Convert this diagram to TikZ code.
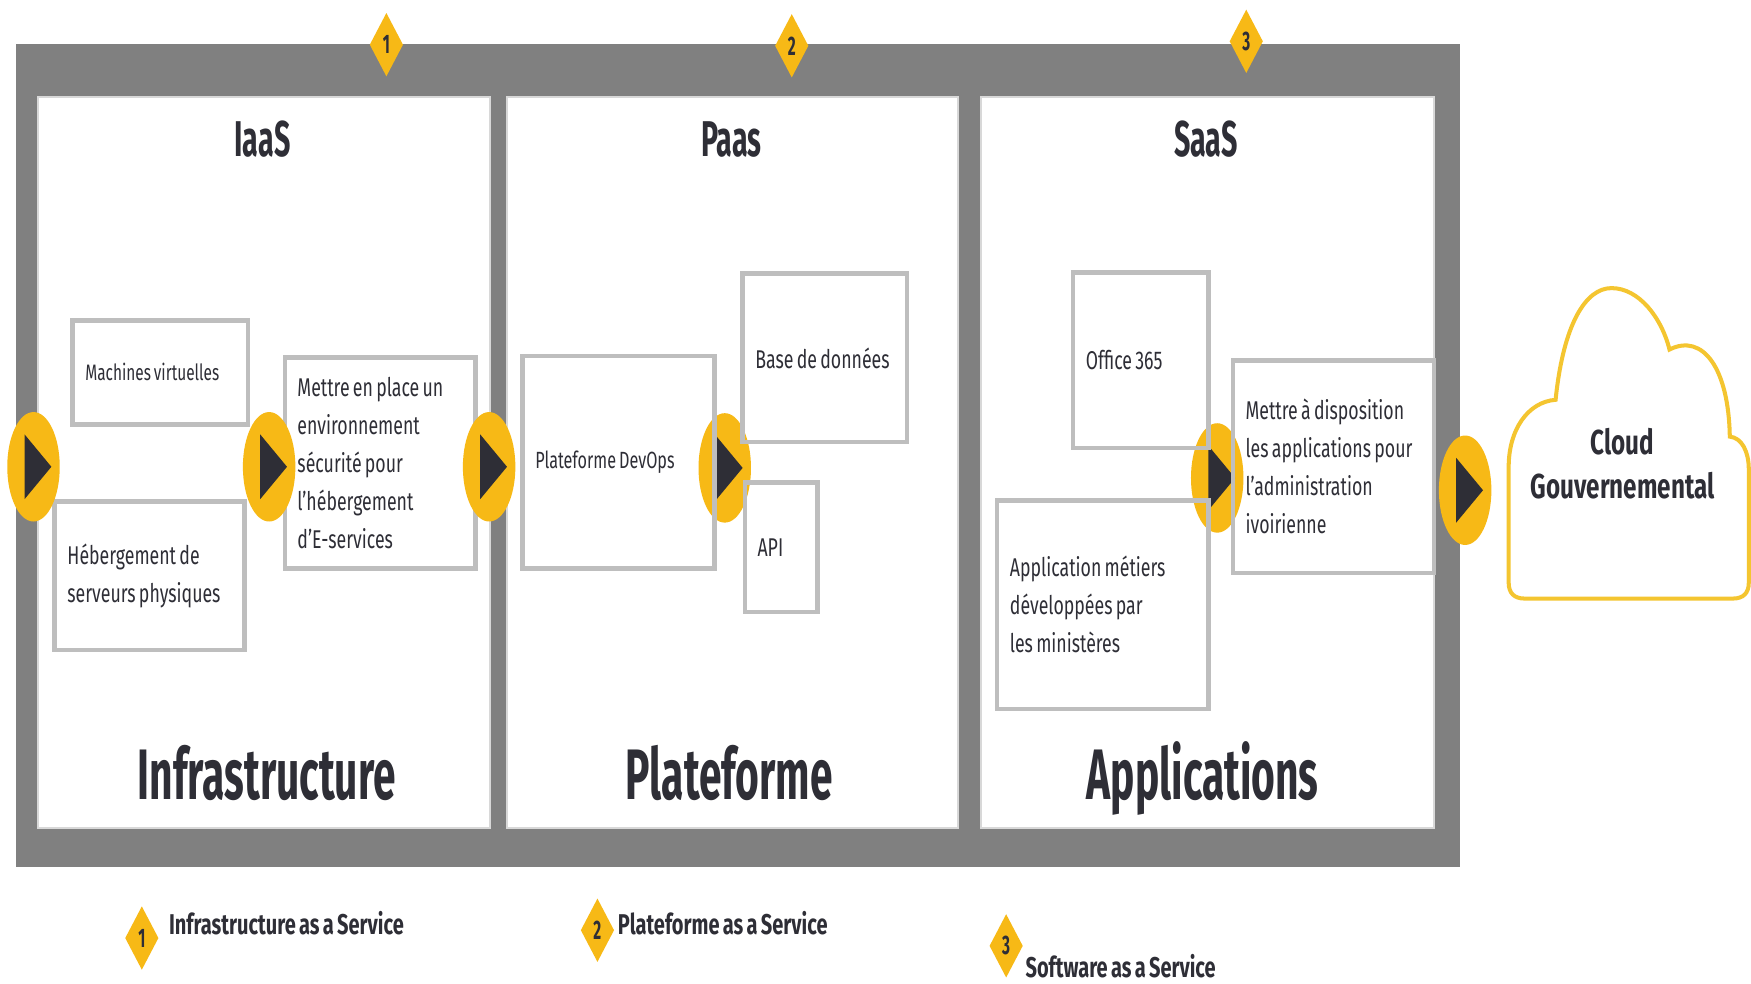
\documentclass[tikz,border=0pt]{standalone}
\usepackage{fontspec}
\setmainfont{Fira Sans}[FakeStretch=0.69, WordSpace=0.7]
\newfontfamily\headfont{Fira Sans}[FakeStretch=0.57, WordSpace=0.7]
\newfontfamily\labelfont{Fira Sans}[FakeStretch=0.7, WordSpace=0.7]
\usetikzlibrary{shapes.geometric}
\definecolor{framegray}{HTML}{808080}
\definecolor{boxgray}{HTML}{BEBEBE}
\definecolor{gold}{HTML}{F7B916}
\definecolor{cloudgold}{HTML}{F4C530}
\definecolor{ink}{HTML}{2E2E36}
% yellow oval with a dark play triangle
\newcommand\playmark[3]{%
  \node[go] (#1) at (#2,#3) {};
  \fill[ink] (#1.center) ++(-8,-29) -- ++(0,58) -- ++(24,-29) -- cycle;}
% framed box with left-aligned text: name, x, y, width, height, text
\newcommand\itembox[6]{%
  \node[item, minimum width=#4pt, minimum height=#5pt] (#1) at (#2,#3) {};
  \node[itemtext] (#1-t) at ([xshift=6.5pt]#1.west) {#6};}
\begin{document}
\begin{tikzpicture}[x=0.5pt,y=-0.5pt,
  panel/.style={draw=boxgray!60, line width=0.8pt, fill=white, anchor=north west,
    minimum height=327.5pt, inner sep=0pt},
  item/.style={draw=boxgray, line width=2pt, anchor=north west, inner sep=0pt},
  itemtext/.style={anchor=west, inner sep=0pt, align=left, text=ink,
    font=\fontsize{11.5}{17}\selectfont},
  go/.style={ellipse, fill=gold, minimum width=23.5pt, minimum height=49pt, inner sep=0pt},
  badge/.style={diamond, fill=gold, inner sep=0pt, minimum width=15pt,
    minimum height=28.5pt, text=ink, font=\headfont\bfseries\fontsize{12}{12}\selectfont},
  head/.style={anchor=base, text=ink, font=\headfont\bfseries\fontsize{22.5}{24}\selectfont},
  bigtitle/.style={anchor=base, text=ink, font=\headfont\bfseries\fontsize{32}{34}\selectfont},
  legend/.style={anchor=base west, inner sep=0pt, text=ink,
    font=\labelfont\bfseries\fontsize{12.8}{14}\selectfont}]

\useasboundingbox[fill=white] (0,0) rectangle (1568,881);

% outer grey frame and the three white columns
\fill[framegray] (14,39) rectangle (1307,776);
\node[panel, minimum width=202.5pt] (p1) at (33,86) {};
\node[panel, minimum width=202pt] (p2) at (453,86) {};
\node[panel, minimum width=202.5pt] (p3) at (878,86) {};

% markers that sit beneath the box outlines
\playmark{c4}{649}{419}
\playmark{c5}{1090}{428}

% column titles
\node[head] (iaas) at (235,140) {IaaS};
\node[head] (paas) at (655,140) {Paas};
\node[head] (saas) at (1080,140) {SaaS};
\node[bigtitle] (infra) at (239,716) {Infrastructure};
\node[bigtitle] (plat) at (653,716) {Plateforme};
\node[bigtitle] (apps) at (1077,716) {Applications};

% IaaS boxes
\itembox{mv}{63}{285}{78.5}{46.5}{\fontsize{10}{15}\selectfont Machines virtuelles}
\itembox{heb}{47}{447}{85}{66.5}{Hébergement de\\serveurs physiques}
\itembox{env}{253}{318}{85.5}{94.5}
  {Mettre en place un\\environnement\\sécurité pour\\l’hébergement\\d’E-services}

% PaaS boxes
\itembox{devops}{466}{317}{86}{95}{\fontsize{10.5}{16}\selectfont Plateforme DevOps}
\itembox{bdd}{663}{243}{73.5}{75.5}{Base de données}
\itembox{api}{665}{430}{32.5}{58}{API}

% SaaS boxes
\itembox{office}{959}{242}{60.5}{78.5}{Office 365}
\itembox{appm}{891}{446}{94.5}{93.5}{Application métiers\\développées par\\les ministères}
\itembox{disp}{1102}{321}{90}{95}
  {Mettre à disposition\\les applications pour\\l’administration\\ivoirienne}

% markers drawn over the boxes
\playmark{c1}{30}{418}
\playmark{c2}{241}{418}
\playmark{c3}{438}{418}
\playmark{c6}{1312}{439}

% numbered badges on the frame
\node[badge] (b1) at (346,40) {1};
\node[badge] (b2) at (709,41) {2};
\node[badge] (b3) at (1116,37) {3};

% cloud
\begin{scope}
\clip (0,0) rectangle (1568,881);
\draw[cloudgold, line width=1.8pt, fill=white]
  (1351,522) -- (1351,418)
  .. controls (1351,385) and (1368,360) .. (1393,358)
  .. controls (1400,290) and (1420,258) .. (1443,258)
  .. controls (1468,258) and (1488,285) .. (1495,313)
  .. controls (1525,298) and (1548,330) .. (1549,391)
  .. controls (1560,392) and (1566,405) .. (1566,420)
  -- (1566,522) .. controls (1566,531) and (1561,536) .. (1552,536)
  -- (1365,536) .. controls (1356,536) and (1351,531) .. (1351,522) -- cycle;
\end{scope}
\node[align=center, text=ink, font=\labelfont\bfseries\fontsize{15.5}{19.5}\selectfont] (cloud) at (1453,415)
  {Cloud\\Gouvernemental};

% legend
\node[badge] (l1) at (127,840) {1};
\node[legend] (t1) at (151,837) {Infrastructure as a Service};
\node[badge] (l2) at (535,833) {2};
\node[legend] (t2) at (553,837) {Plateforme as a Service};
\node[badge] (l3) at (901,847) {3};
\node[legend] (t3) at (918,875) {Software as a Service};
\end{tikzpicture}
\end{document}
